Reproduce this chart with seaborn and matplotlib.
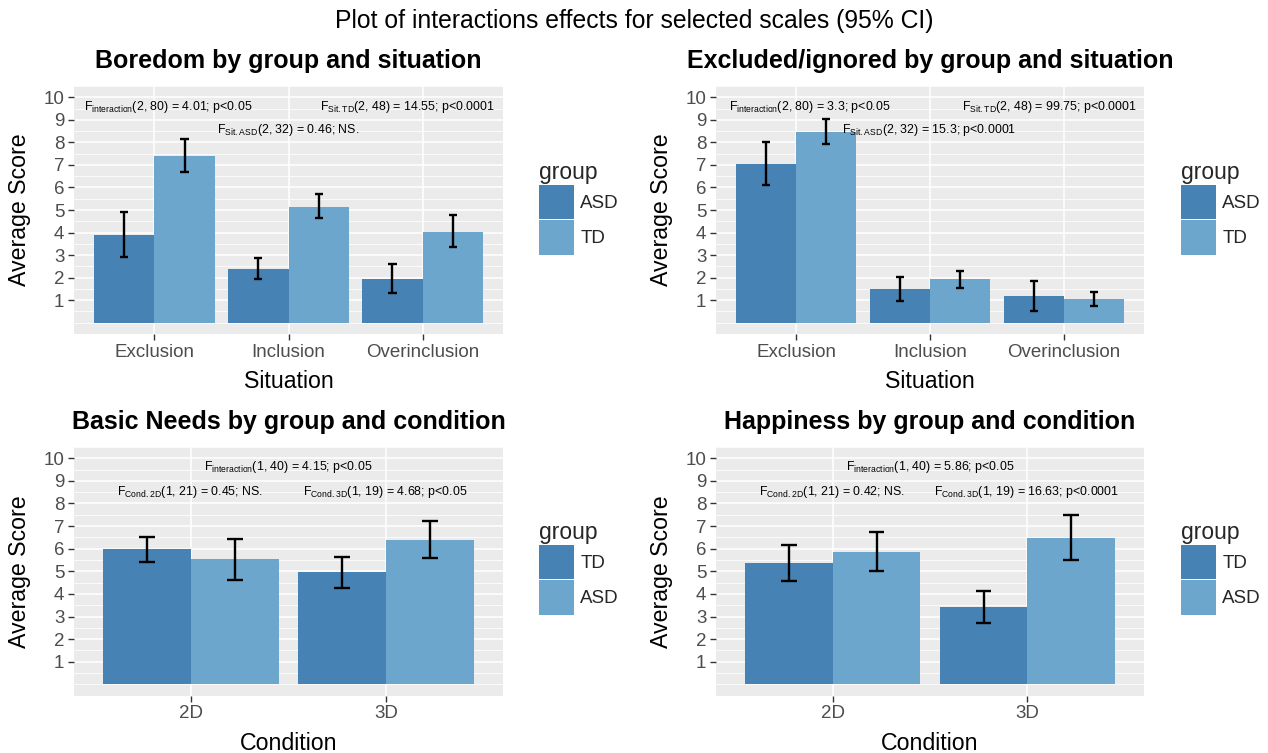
import matplotlib
matplotlib.use("Agg")
import matplotlib.pyplot as plt
import seaborn as sns
import pandas as pd
import numpy as np

# ---------------- data ----------------
situations = ["Exclusion", "Inclusion", "Overinclusion"]
conditions = ["2D", "3D"]

boredom_asd = [3.9, 2.4, 1.95]
boredom_asd_lo = [2.9, 1.93, 1.3]
boredom_asd_hi = [4.9, 2.87, 2.62]
boredom_td = [7.4, 5.13, 4.04]
boredom_td_lo = [6.7, 4.63, 3.34]
boredom_td_hi = [8.16, 5.69, 4.77]

excluded_asd = [7.05, 1.49, 1.18]
excluded_asd_lo = [6.13, 0.96, 0.53]
excluded_asd_hi = [8.0, 2.02, 1.83]
excluded_td = [8.46, 1.93, 1.05]
excluded_td_lo = [7.94, 1.53, 0.75]
excluded_td_hi = [9.02, 2.31, 1.37]

needs_td = [5.99, 4.97]
needs_td_lo = [5.43, 4.28]
needs_td_hi = [6.5, 5.65]
needs_asd = [5.55, 6.39]
needs_asd_lo = [4.63, 5.6]
needs_asd_hi = [6.45, 7.21]

happy_td = [5.35, 3.4]
happy_td_lo = [4.59, 2.73]
happy_td_hi = [6.15, 4.15]
happy_asd = [5.85, 6.47]
happy_asd_lo = [5.0, 5.49]
happy_asd_hi = [6.72, 7.48]

y_ticks = list(range(1, 11))

titles = ["Boredom by group and situation",
          "Excluded/ignored by group and situation",
          "Basic Needs by group and condition",
          "Happiness by group and condition"]
suptitle = "Plot of interactions effects for selected scales (95% CI)"

ann_boredom = [(r"$\mathregular{F_{interaction}}$(2, 80) = 4.01; p<0.05", 0.10, 9.56),
               (r"$\mathregular{F_{Sit{.}TD}}$(2, 48) = 14.55; p<0.0001", 1.89, 9.56),
               (r"$\mathregular{F_{Sit{.}ASD}}$(2, 32) = 0.46; NS.", 1.0, 8.56)]
ann_excluded = [(r"$\mathregular{F_{interaction}}$(2, 80) = 3.3; p<0.05", 0.10, 9.56),
                (r"$\mathregular{F_{Sit{.}TD}}$(2, 48) = 99.75; p<0.0001", 1.89, 9.56),
                (r"$\mathregular{F_{Sit{.}ASD}}$(2, 32) = 15.3; p<0.0001", 0.99, 8.56)]
ann_needs = [(r"$\mathregular{F_{interaction}}$(1, 40) = 4.15; p<0.05", 0.5, 9.6),
             (r"$\mathregular{F_{Cond{.}2D}}$(1, 21) = 0.45; NS.", -0.005, 8.5),
             (r"$\mathregular{F_{Cond{.}3D}}$(1, 19) = 4.68; p<0.05", 0.995, 8.5)]
ann_happy = [(r"$\mathregular{F_{interaction}}$(1, 40) = 5.86; p<0.05", 0.5, 9.6),
             (r"$\mathregular{F_{Cond{.}2D}}$(1, 21) = 0.42; NS.", -0.005, 8.5),
             (r"$\mathregular{F_{Cond{.}3D}}$(1, 19) = 16.63; p<0.0001", 0.995, 8.5)]

DARK = "#4682B4"
LIGHT = "#6CA6CD"

sns.set_theme(style="darkgrid")
plt.rcParams["font.family"] = ["Liberation Sans", "DejaVu Sans"]
plt.rcParams["mathtext.fontset"] = "custom"
plt.rcParams["mathtext.rm"] = "Liberation Sans"

W, H = 1268, 753
fig = plt.figure(figsize=(W / 100, H / 100), dpi=100)
fig.patch.set_facecolor("white")


def ax_at(left, right, top, bottom):
    return fig.add_axes([left / W, 1 - bottom / H, (right - left) / W, (bottom - top) / H])


def panel(ax, cats, xname, groups, vals, los, his, title, anns, xlabel, leg_xy):
    rows = []
    for g, v in zip(groups, vals):
        for c, val in zip(cats, v):
            rows.append({xname: c, "group": g, "score": val})
    df = pd.DataFrame(rows)
    sns.barplot(data=df, x=xname, y="score", hue="group", order=cats,
                hue_order=groups, palette=[DARK, LIGHT], width=0.9,
                errorbar=None, saturation=1, ax=ax, linewidth=0, gap=0)
    cw = 0.031 if len(cats) == 3 else 0.041
    for cont, lo, hi, v in zip(ax.containers, los, his, vals):
        xs = [p.get_x() + p.get_width() / 2 for p in cont.patches]
        v = np.array(v)
        yerr = np.vstack([v - np.array(lo), np.array(hi) - v])
        ax.errorbar(xs, v, yerr=yerr, fmt="none", ecolor="black",
                    elinewidth=1.7, capsize=0.0, zorder=5)
        for x, l, h in zip(xs, lo, hi):
            ax.plot([x - cw, x + cw], [l, l], color="black", lw=1.7, zorder=5, solid_capstyle="butt")
            ax.plot([x - cw, x + cw], [h, h], color="black", lw=1.7, zorder=5, solid_capstyle="butt")
    n = len(cats)
    ax.set_xlim(-0.6, n - 0.4)
    ax.set_ylim(-0.5, 10.5)
    ax.set_facecolor("#EBEBEB")
    ax.set_yticks(y_ticks)
    minor = [0.0] + [k + 0.5 for k in range(0, 11)]
    ax.set_yticks(minor, minor=True)
    ax.grid(True, which="major", color="white", lw=1.1)
    ax.grid(True, which="minor", axis="y", color="white", lw=0.55)
    ax.grid(False, which="minor", axis="x")
    ax.tick_params(axis="both", which="major", length=4, width=1.0, color="#333333",
                   labelcolor="#4D4D4D", labelsize=13.5, pad=3, bottom=True, left=True)
    ax.tick_params(which="minor", length=0)
    for s in ax.spines.values():
        s.set_visible(False)
    ax.set_axisbelow(True)
    ax.set_title(title, fontsize=18, fontweight="bold", pad=13, color="black")
    ax.set_xlabel(xlabel, fontsize=16.7, color="black", labelpad=7)
    ax.set_ylabel("Average Score", fontsize=16.7, color="black", labelpad=9)
    for txt, x, y in anns:
        ax.text(x, y, txt, ha="center", va="center", fontsize=8.9, color="black", zorder=6)
    handles, labels = ax.get_legend_handles_labels()
    if ax.get_legend() is not None:
        ax.get_legend().remove()
    fig.legend(handles, labels, title="group", loc="upper left",
               bbox_to_anchor=(leg_xy[0] / W, 1 - leg_xy[1] / H), frameon=False,
               fontsize=13.5, title_fontsize=16.5, handlelength=1.85, handleheight=2.45,
               labelspacing=0.05, handletextpad=0.35, borderpad=0, borderaxespad=0,
               alignment="left")


ax1 = ax_at(74, 503, 86, 334)
panel(ax1, situations, "Situation", ["ASD", "TD"], [boredom_asd, boredom_td],
      [boredom_asd_lo, boredom_td_lo], [boredom_asd_hi, boredom_td_hi],
      titles[0], ann_boredom, "Situation", (539, 161))
ax2 = ax_at(716, 1144, 86, 334)
panel(ax2, situations, "Situation", ["ASD", "TD"], [excluded_asd, excluded_td],
      [excluded_asd_lo, excluded_td_lo], [excluded_asd_hi, excluded_td_hi],
      titles[1], ann_excluded, "Situation", (1181, 161))
ax3 = ax_at(74, 503, 447, 695.6)
panel(ax3, conditions, "Condition", ["TD", "ASD"], [needs_td, needs_asd],
      [needs_td_lo, needs_asd_lo], [needs_td_hi, needs_asd_hi],
      titles[2], ann_needs, "Condition", (539, 521))
ax4 = ax_at(716, 1144, 447, 695.6)
panel(ax4, conditions, "Condition", ["TD", "ASD"], [happy_td, happy_asd],
      [happy_td_lo, happy_asd_lo], [happy_td_hi, happy_asd_hi],
      titles[3], ann_happy, "Condition", (1181, 521))

fig.text(0.5, 1 - 21 / H, suptitle, ha="center", va="center", fontsize=17.8, color="black")

fig.savefig("out.png", dpi=100, facecolor="white")
